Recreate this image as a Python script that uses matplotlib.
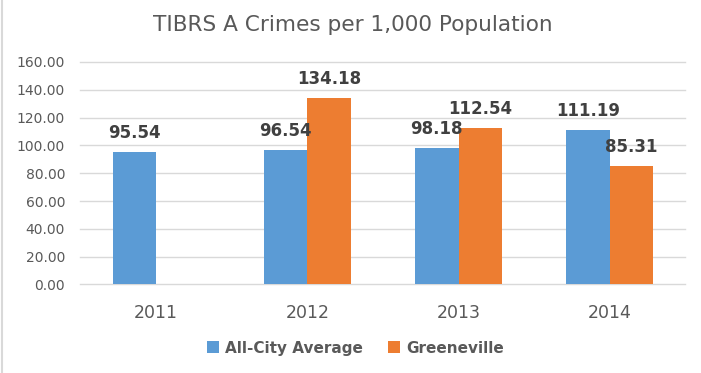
import matplotlib
matplotlib.use("Agg")
import matplotlib.pyplot as plt
import numpy as np
from matplotlib.patches import Patch
from matplotlib.lines import Line2D

# data
years = ["2011", "2012", "2013", "2014"]
all_city = [95.54, 96.54, 98.18, 111.19]
greeneville = [np.nan, 134.18, 112.54, 85.31]
series_names = ["All-City Average", "Greeneville"]
yticks = [0, 20, 40, 60, 80, 100, 120, 140, 160]

blue = "#5B9BD5"
orange = "#ED7D31"
grid_col = "#D9D9D9"
txt_col = "#595959"
lab_col = "#404040"

fig = plt.figure(figsize=(7.01, 3.73), dpi=100)
ax = fig.add_axes([0.1147, 0.2373, 0.863, 0.5965])

x = np.arange(len(years))
w = 0.287
b1 = ax.bar(x - w / 2, all_city, w, color=blue, zorder=3)
b2 = ax.bar(x + w / 2, greeneville, w, color=orange, zorder=3)

# value labels
for bars, vals in [(b1, all_city), (b2, greeneville)]:
    for r, v in zip(bars, vals):
        if np.isnan(v):
            continue
        ax.annotate(f"{v:.2f}", (r.get_x() + r.get_width() / 2, v),
                    xytext=(0, 13.7), textcoords="offset points",
                    ha="center", va="center", fontsize=12, fontweight="bold",
                    color=lab_col, zorder=5)

ax.set_xlim(-0.5, 3.5)
ax.set_ylim(0, 160)
ax.set_yticks(yticks)
ax.set_yticklabels([f"{t:.2f}" for t in yticks])
ax.set_xticks(x)
ax.set_xticklabels(years)
ax.tick_params(axis="y", length=0, pad=11, labelsize=10, labelcolor=txt_col)
ax.tick_params(axis="x", length=0, pad=14, labelsize=12.5, labelcolor=txt_col)
ax.yaxis.grid(True, color=grid_col, lw=1.0, zorder=0)
for gl in ax.get_ygridlines():
    gl.set_clip_on(False)
for s in ax.spines.values():
    s.set_visible(False)

fig.text(0.503, 0.933, "TIBRS A Crimes per 1,000 Population", ha="center",
         va="center", fontsize=15.6, color=txt_col)

handles = [Patch(facecolor=blue), Patch(facecolor=orange)]
fig.legend(handles, series_names, loc="center", bbox_to_anchor=(0.507, 0.067),
           ncol=2, frameon=False, handlelength=0.8, handleheight=0.8,
           handletextpad=0.4, columnspacing=1.6,
           prop={"size": 11, "weight": "bold"}, labelcolor=txt_col)

# chart border on the left edge
fig.add_artist(Line2D([0.003, 0.003], [0, 1], color=grid_col, lw=1.5,
                      transform=fig.transFigure))

fig.savefig("out.png", dpi=100)
